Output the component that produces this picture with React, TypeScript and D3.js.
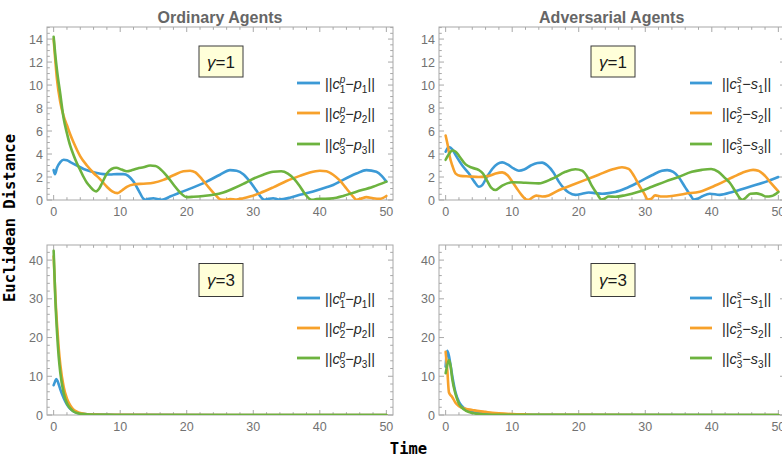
import React from "react";
import * as d3 from "d3";

// ---------- data ----------
type Pt = [number, number];

const timeTicks = [0, 10, 20, 30, 40, 50];
const yTicksG1 = [0, 2, 4, 6, 8, 10, 12, 14];
const yTicksG3 = [0, 10, 20, 30, 40];
const columnTitles = ["Ordinary Agents", "Adversarial Agents"];
const gammaLabels = ["1", "3"];
const seriesLetters = ["p", "s"];
const seriesIndex = ["1", "2", "3"];
const seriesColors = ["#3c9ad6", "#f7a12b", "#6db33f"];

// Ordinary agents, gamma = 1
const ordG1Blue: Pt[] = [[0,2.6],[0.2,2.25],[0.5,2.8],[1,3.3],[1.5,3.5],[2,3.45],[2.5,3.3],[3.5,3.0],[4.5,2.7],[5.5,2.5],[6.5,2.35],[7.5,2.25],[8.5,2.22],[9.5,2.25],[10.5,2.25],[11.2,2.1],[12,1.6],[12.8,0.8],[13.5,0.1],[13.8,0.02],[14.3,0.1],[15,0.15],[15.6,0.08],[16.2,0.02],[16.8,0.1],[17.5,0.3],[19,0.65],[21,1.1],[23,1.6],[25,2.2],[26.5,2.6],[27.5,2.55],[28.5,2.25],[29.5,1.6],[30.5,0.8],[31.3,0.15],[31.7,0.02],[32.3,0.1],[33,0.15],[33.8,0.05],[34.5,0.08],[35.5,0.2],[37,0.45],[39,0.75],[41,1.1],[42,1.3],[43,1.6],[45.5,2.3],[47,2.6],[48.5,2.45],[49.3,2.1],[50,1.6]];
const ordG1Orange: Pt[] = [[0,14],[0.2,12.5],[0.5,10.5],[1,8.5],[1.5,7.3],[2,6.5],[2.5,5.7],[3,5.0],[4,3.8],[5,3.0],[6,2.35],[7,1.8],[8,1.15],[8.8,0.75],[9.6,0.6],[10.3,0.85],[11,1.15],[12,1.35],[13.5,1.42],[15,1.5],[16.5,1.75],[18,2.15],[19.5,2.5],[20.5,2.55],[21.3,2.4],[22.3,1.8],[23.3,1.1],[24.3,0.45],[25.1,0.05],[25.8,0.02],[26.5,0.08],[27.5,0.05],[28.5,0.15],[29.5,0.3],[31,0.6],[33,1.1],[35,1.65],[37,2.1],[38.5,2.4],[40,2.55],[41,2.5],[42,2.2],[43,1.7],[44,1.0],[45,0.3],[45.5,0.02],[46.2,0.12],[47,0.25],[48,0.15],[49,0.1],[50,0.35]];
const ordG1Green: Pt[] = [[0,14.2],[0.25,12.6],[0.5,11.3],[1,9.2],[1.5,7.1],[2,5.8],[2.5,4.7],[3,3.9],[3.5,3.2],[4,2.6],[4.5,2.0],[5,1.5],[5.5,1.15],[6,0.85],[6.4,0.75],[6.8,0.95],[7.3,1.5],[8,2.3],[8.7,2.7],[9.4,2.8],[10.2,2.65],[11,2.5],[11.8,2.6],[12.6,2.75],[13.5,2.85],[14.5,3.0],[15.3,2.95],[16.2,2.6],[17,2.1],[18,1.35],[19,0.65],[20,0.25],[21,0.28],[22.5,0.35],[24,0.45],[25.5,0.65],[27,1.0],[28.5,1.4],[30,1.85],[31.5,2.2],[33,2.45],[34.2,2.5],[35.2,2.3],[36.2,1.8],[37,1.2],[37.8,0.5],[38.5,0.08],[38.9,0.02],[39.5,0.08],[40.5,0.1],[41.5,0.12],[42.5,0.2],[43.5,0.35],[45.5,0.72],[48,1.16],[50,1.6]];

// Adversarial agents, gamma = 1
const advG1Blue: Pt[] = [[0,4.2],[0.5,4.6],[1,4.4],[1.5,3.9],[2.5,3.0],[3.5,2.3],[4.3,1.6],[5,1.15],[5.5,1.3],[6.2,2.0],[7,2.7],[7.8,3.15],[8.5,3.27],[9.3,3.1],[10.2,2.75],[11,2.55],[11.8,2.65],[12.8,3.0],[13.8,3.22],[14.5,3.25],[15.3,3.0],[16.2,2.4],[17,1.6],[17.8,1.0],[18.5,0.65],[19.5,0.45],[20.5,0.55],[21.5,0.65],[22.5,0.6],[23.5,0.55],[24.5,0.6],[25.5,0.7],[27,1.0],[29,1.55],[31,2.15],[32.5,2.55],[33.3,2.6],[34.2,2.45],[35,2.0],[36,1.1],[36.8,0.4],[37.3,0.05],[37.8,0.1],[38.5,0.3],[39.7,0.55],[41.2,0.45],[43.2,0.72],[45.7,1.16],[48.2,1.6],[50,2.0]];
const advG1Orange: Pt[] = [[0,5.6],[0.3,4.8],[0.6,3.8],[1,3.0],[1.5,2.3],[2.2,2.1],[3.5,2.05],[5,2.0],[6.5,2.1],[7.5,2.3],[8.5,2.4],[9.3,2.15],[10,1.6],[10.7,1.0],[11.4,0.45],[12.1,0.05],[12.5,0.02],[13,0.2],[13.6,0.38],[14.5,0.3],[15.5,0.4],[17,0.85],[19,1.3],[21,1.75],[23,2.2],[25,2.65],[26.5,2.85],[27.5,2.7],[28.3,2.1],[29,1.35],[29.8,0.6],[30.4,0.05],[30.8,0.08],[31.5,0.4],[32.5,0.3],[34,0.35],[36,0.55],[38.2,0.72],[40.7,1.3],[43.2,2.0],[45,2.45],[46.2,2.62],[47,2.55],[48,2.1],[49,1.4],[50,0.75]];
const advG1Green: Pt[] = [[0,3.5],[0.5,4.0],[1,4.3],[1.5,4.2],[2,3.85],[3,3.1],[4,2.8],[5,2.6],[5.6,2.3],[6.2,1.7],[6.8,1.1],[7.5,0.87],[8.5,1.25],[10,1.55],[12,1.5],[14,1.45],[16,1.85],[18,2.45],[19.5,2.68],[20.5,2.55],[21.3,2.0],[22,1.2],[22.8,0.5],[23.4,0.05],[23.8,0.1],[24.5,0.3],[25.5,0.28],[27,0.42],[29,0.72],[31,1.15],[33,1.6],[35,2.0],[37,2.45],[38.5,2.62],[39.9,2.7],[41,2.45],[42,1.9],[42.7,1.5],[43.6,0.7],[44.3,0.1],[44.6,0.02],[45.1,0.2],[45.8,0.55],[46.7,0.58],[47.5,0.45],[48.2,0.3],[49,0.35],[50,0.7]];

// Ordinary agents, gamma = 3
const ordG3Blue: Pt[] = [[0,7.7],[0.2,8.6],[0.4,9.3],[0.6,8.7],[0.8,7.7],[1,6.6],[1.5,4.4],[2,2.7],[2.5,1.6],[3,0.9],[3.5,0.55],[4,0.35],[5,0.2],[6,0.15],[8,0.1],[10,0.05],[15,0.02],[50,0]];
const ordG3Orange: Pt[] = [[0,41],[0.25,31],[0.5,23.5],[0.75,17.5],[1,13],[1.5,7.3],[2,4.2],[2.5,2.5],[3,1.4],[3.5,0.85],[4,0.5],[5,0.2],[6,0.1],[8,0.04],[10,0.02],[50,0]];
const ordG3Green: Pt[] = [[0,42.4],[0.25,30],[0.5,21.5],[0.75,15.2],[1,10.9],[1.5,5.7],[2,3.0],[2.5,1.7],[3,0.9],[3.5,0.5],[4,0.3],[5,0.15],[6,0.08],[8,0.03],[10,0.01],[50,0]];

// Adversarial agents, gamma = 3
const advG3Blue: Pt[] = [[0,12.5],[0.25,16.6],[0.5,15.2],[0.75,12.7],[1,10],[1.5,5.7],[2,3.4],[2.5,2.2],[3,1.5],[4,0.8],[5,0.5],[6,0.35],[8,0.15],[10,0.08],[15,0.02],[50,0]];
const advG3Orange: Pt[] = [[0,16.3],[0.25,11.5],[0.5,5.8],[1,4.6],[1.5,3.1],[2,2.3],[3,1.6],[4,1.3],[5,1.0],[6,0.8],[7,0.6],[8,0.45],[10,0.25],[12,0.15],[15,0.05],[20,0.02],[50,0]];
const advG3Green: Pt[] = [[0,10.8],[0.25,12.9],[0.5,14.2],[0.75,12.6],[1,9.2],[1.5,5.3],[2,2.9],[2.5,1.8],[3,1.15],[4,0.5],[5,0.25],[6,0.12],[8,0.05],[10,0.02],[50,0]];

// ---------- layout ----------
const W = 782;
const H = 457;
const colX = [
  { x0: 47, x1: 393, lineX0: 297, lineX1: 320, textX: 325 },
  { x0: 439, x1: 785, lineX0: 690, lineX1: 712, textX: 722 },
];
const rowY = [
  { y0: 27, y1: 200, yMax: 15.05, ticks: yTicksG1, minor: 0.5, legendDy: [56, 86, 117], boxTop: 19, boxH: 31 },
  { y0: 245, y1: 415, yMax: 43.9, ticks: yTicksG3, minor: 2, legendDy: [53, 83, 113], boxTop: 18.5, boxH: 33 },
];
const panelSeries: Pt[][][][] = [
  [[ordG1Blue, ordG1Orange, ordG1Green], [advG1Blue, advG1Orange, advG1Green]],
  [[ordG3Blue, ordG3Orange, ordG3Green], [advG3Blue, advG3Orange, advG3Green]],
];

const FRAME = "#a8a8a8";
const LABEL = "#727272";
const SANS = "'Liberation Sans', Arial, sans-serif";
const MONO = "'DejaVu Sans Mono', monospace";

function LegendLabel({ x, y, letter, idx }: { x: number; y: number; letter: string; idx: string }) {
  const back = letter === "p" ? 5.6 : 5.0;
  return (
    <text x={x} y={y} fontSize={14.5} fill="#262626" fontFamily={SANS}>
      <tspan>||</tspan>
      <tspan fontStyle="italic">c</tspan>
      <tspan fontStyle="italic" fontSize={10} dy={-6}>{letter}</tspan>
      <tspan fontSize={10} dx={-back} dy={9.5}>{idx}</tspan>
      <tspan dy={-3.5}>{"\u2212"}</tspan>
      <tspan fontStyle="italic">{letter}</tspan>
      <tspan fontSize={10} dy={3.5}>{idx}</tspan>
      <tspan dy={-3.5}>||</tspan>
    </text>
  );
}

function Panel({ r, c }: { r: number; c: number }) {
  const col = colX[c];
  const row = rowY[r];
  const x = d3.scaleLinear().domain([-1, 51]).range([col.x0, col.x1]);
  const y = d3.scaleLinear().domain([0, row.yMax]).range([row.y1, row.y0]);
  const line = d3
    .line<Pt>()
    .x((d) => x(d[0]))
    .y((d) => y(d[1]))
    .curve(d3.curveMonotoneX);
  const clipId = `clip-${r}-${c}`;
  const xMinor = d3.range(0, 51, 2).filter((v) => v % 10 !== 0);
  const yStepMajor = row.ticks[1] - row.ticks[0];
  const yMinor = d3
    .range(0, row.yMax, row.minor)
    .filter((v) => Math.abs(v / yStepMajor - Math.round(v / yStepMajor)) > 1e-6);
  const majLen = 5;
  const minLen = 2.8;
  const series = panelSeries[r][c];
  const letter = seriesLetters[c];
  const boxW = 44;
  const boxX = col.x0 + 152;
  const boxY = row.y0 + row.boxTop;
  return (
    <g>
      <defs>
        <clipPath id={clipId}>
          <rect x={col.x0} y={row.y0} width={col.x1 - col.x0} height={row.y1 - row.y0} />
        </clipPath>
      </defs>
      <rect x={col.x0} y={row.y0} width={col.x1 - col.x0} height={row.y1 - row.y0} fill="none" stroke={FRAME} strokeWidth={1} />
      {/* x ticks */}
      {timeTicks.map((t) => (
        <g key={`xt${t}`}>
          <line x1={x(t)} x2={x(t)} y1={row.y1} y2={row.y1 - majLen} stroke={FRAME} />
          <line x1={x(t)} x2={x(t)} y1={row.y0} y2={row.y0 + majLen} stroke={FRAME} />
          <text x={x(t)} y={row.y1 + 15.5} textAnchor="middle" fontSize={12.5} fill={LABEL} fontFamily={SANS}>
            {t}
          </text>
        </g>
      ))}
      {xMinor.map((t) => (
        <g key={`xm${t}`}>
          <line x1={x(t)} x2={x(t)} y1={row.y1} y2={row.y1 - minLen} stroke={FRAME} />
          <line x1={x(t)} x2={x(t)} y1={row.y0} y2={row.y0 + minLen} stroke={FRAME} />
        </g>
      ))}
      {/* y ticks */}
      {row.ticks.map((v) => (
        <g key={`yt${v}`}>
          <line x1={col.x0} x2={col.x0 + majLen} y1={y(v)} y2={y(v)} stroke={FRAME} />
          <line x1={col.x1} x2={col.x1 - majLen} y1={y(v)} y2={y(v)} stroke={FRAME} />
          <text x={col.x0 - 4} y={y(v)} dy="0.36em" textAnchor="end" fontSize={12.5} fill={LABEL} fontFamily={SANS}>
            {v}
          </text>
        </g>
      ))}
      {yMinor.map((v) => (
        <g key={`ym${v}`}>
          <line x1={col.x0} x2={col.x0 + minLen} y1={y(v)} y2={y(v)} stroke={FRAME} />
          <line x1={col.x1} x2={col.x1 - minLen} y1={y(v)} y2={y(v)} stroke={FRAME} />
        </g>
      ))}
      {/* curves */}
      <g clipPath={`url(#${clipId})`}>
        {series.map((s, i) => (
          <path key={i} d={line(s) || ""} fill="none" stroke={seriesColors[i]} strokeWidth={2.6} strokeLinejoin="round" strokeLinecap="round" />
        ))}
      </g>
      {/* gamma box */}
      <rect x={boxX} y={boxY} width={boxW} height={row.boxH} fill="#ffffd9" stroke="#3a3a3a" strokeWidth={1} />
      <text x={boxX + boxW / 2} y={boxY + row.boxH / 2 + 6} textAnchor="middle" fontSize={17} fill="#1a1a1a" fontFamily={SANS}>
        <tspan fontStyle="italic">{"\u03b3"}</tspan>
        <tspan>={gammaLabels[r]}</tspan>
      </text>
      {/* legend */}
      {series.map((_, i) => {
        const ly = row.y0 + row.legendDy[i];
        return (
          <g key={`lg${i}`}>
            <line x1={col.lineX0} x2={col.lineX1} y1={ly} y2={ly} stroke={seriesColors[i]} strokeWidth={2.8} />
            <LegendLabel x={col.textX} y={ly + 6} letter={letter} idx={seriesIndex[i]} />
          </g>
        );
      })}
    </g>
  );
}

export default function App() {
  return (
    <svg
      width={W}
      height={H}
      viewBox={`0 0 ${W} ${H}`}
      style={{ position: "absolute", left: 0, top: 0, background: "#fff" }}
    >
      <rect x={0} y={0} width={W} height={H} fill="#fff" />
      <text x={220} y={22.5} textAnchor="middle" fontSize={16} fontWeight="bold" fill="#666" fontFamily={SANS}>
        {columnTitles[0]}
      </text>
      <text x={611.7} y={22.5} textAnchor="middle" fontSize={16} fontWeight="bold" fill="#666" fontFamily={SANS}>
        {columnTitles[1]}
      </text>
      {[0, 1].map((r) => [0, 1].map((c) => <Panel key={`${r}-${c}`} r={r} c={c} />))}
      <text
        transform="translate(10,218) rotate(-90)"
        textAnchor="middle"
        dominantBaseline="central"
        fontSize={15.5}
        fontWeight="bold"
        fill="#000"
        fontFamily={MONO}
      >
        Euclidean Distance
      </text>
      <text x={408.5} y={454} textAnchor="middle" fontSize={15.5} fontWeight="bold" fill="#000" fontFamily={MONO}>
        Time
      </text>
    </svg>
  );
}
